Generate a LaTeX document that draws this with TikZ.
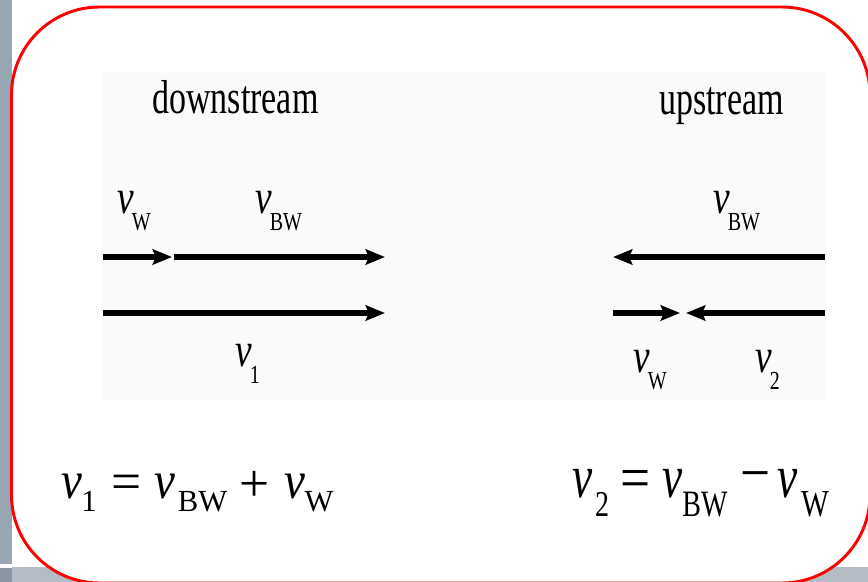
\documentclass[tikz,border=0pt]{standalone}
\usepackage{fontspec}
\setmainfont{Liberation Serif}
\usetikzlibrary{arrows.meta}
\definecolor{stripL}{RGB}{152,166,179}
\definecolor{stripB}{RGB}{180,189,197}
\definecolor{stripD}{RGB}{136,150,164}
\definecolor{panelgray}{RGB}{250,250,250}
\definecolor{framered}{RGB}{255,0,0}
\newcommand\vlab[1]{\scalebox{1}[1.3]{\fontsize{28}{30}\selectfont\itshape v}\kern-1.5pt\raisebox{-12.75pt}{\scalebox{1}[1.3]{\fontsize{15}{17}\selectfont #1}}}
\newcommand\bigtxt[3]{\scalebox{#1}[#2]{\fontsize{40}{44}\selectfont #3}}
\newcommand\subtxt[3]{\scalebox{1}[#2]{\fontsize{#1}{#1}\selectfont #3}}
\begin{document}
\begin{tikzpicture}[x=0.75pt,y=-0.75pt,
  lbl/.style={inner sep=0pt, anchor=base west},
  piece/.style={inner sep=0pt, anchor=center},
  arr/.style={line width=4.3pt, -{Stealth[length=14.5pt, width=11.5pt, inset=2.5pt]}}]
\useasboundingbox (0,0) rectangle (868,582);
\fill[white] (0,0) rectangle (868,582);
\fill[stripL] (0,0) rectangle (12,582);
\fill[stripB] (12,567) rectangle (868,582);
\fill[white] (0,564) rectangle (12,568);
\fill[stripD] (0,568) rectangle (12,582);
\draw[framered, line width=2.2pt, fill=white, rounded corners=66pt] (11.5,7) rectangle (870,583);
\fill[panelgray] (103,72) rectangle (827,400);
% headings
\node[lbl] (down) at (152,113) {\scalebox{1}[1.4]{\fontsize{25.5}{28}\selectfont downstream}};
\node[inner sep=0pt, anchor=base east] (up) at (784,114) {\scalebox{1}[1.4]{\fontsize{25.5}{28}\selectfont upstream}};
% downstream arrows
\coordinate (d1a) at (103,257);
\coordinate (d1b) at (172,257);
\coordinate (d2a) at (174,257);
\coordinate (d2b) at (385,257);
\coordinate (d3a) at (103,313);
\coordinate (d3b) at (385,313);
\draw[arr] (d1a) -- (d1b);
\draw[arr] (d2a) -- (d2b);
\draw[arr] (d3a) -- (d3b);
% upstream arrows
\coordinate (u1a) at (825,257);
\coordinate (u1b) at (613,257);
\coordinate (u2a) at (613,313);
\coordinate (u2b) at (680,313);
\coordinate (u3a) at (825,313);
\coordinate (u3b) at (686,313);
\draw[arr] (u1a) -- (u1b);
\draw[arr] (u2a) -- (u2b);
\draw[arr] (u3a) -- (u3b);
% labels
\node[lbl] (lvw) at (117,213) {\vlab{W}};
\node[lbl] (lvbw) at (255,213) {\vlab{BW}};
\node[lbl] (lv1) at (235,366) {\vlab{1}};
\node[lbl] (rvbw) at (713,213) {\vlab{BW}};
\node[lbl] (rvw) at (633,372) {\vlab{W}};
\node[lbl] (rv2) at (755,372) {\vlab{2}};
% left equation
\node[piece] (e1v) at (71.5,487) {\bigtxt{0.88}{1}{\itshape v}};
\node[piece] (e1s) at (89,501.5) {\subtxt{23}{1}{1}};
\node[piece] (e1eq) at (127,487.5) {\bigtxt{1}{1}{=}};
\node[piece] (e1vb) at (165,487) {\bigtxt{0.88}{1}{\itshape v}};
\node[piece] (e1bw) at (202.5,502) {\subtxt{23}{1}{BW}};
\node[piece] (e1pl) at (255,486) {\bigtxt{1}{1}{+}};
\node[piece] (e1vc) at (295,487) {\bigtxt{0.88}{1}{\itshape v}};
\node[piece] (e1w) at (319,502) {\subtxt{23}{1}{W}};
% right equation
\node[piece] (e2v) at (583,484) {\bigtxt{0.85}{1.15}{\itshape v}};
\node[piece] (e2s) at (602,504.5) {\subtxt{21}{1.3}{2}};
\node[piece] (e2eq) at (636,484) {\bigtxt{1}{1.15}{=}};
\node[piece] (e2vb) at (672.5,484) {\bigtxt{0.85}{1.15}{\itshape v}};
\node[piece] (e2bw) at (705,504.5) {\subtxt{21}{1.33}{BW}};
\node[piece] (e2mi) at (756,483) {\bigtxt{1}{1.15}{−}};
\node[piece] (e2vc) at (788,484) {\bigtxt{0.85}{1.15}{\itshape v}};
\node[piece] (e2w) at (815,504.5) {\subtxt{22}{1.3}{W}};
\end{tikzpicture}
\end{document}
